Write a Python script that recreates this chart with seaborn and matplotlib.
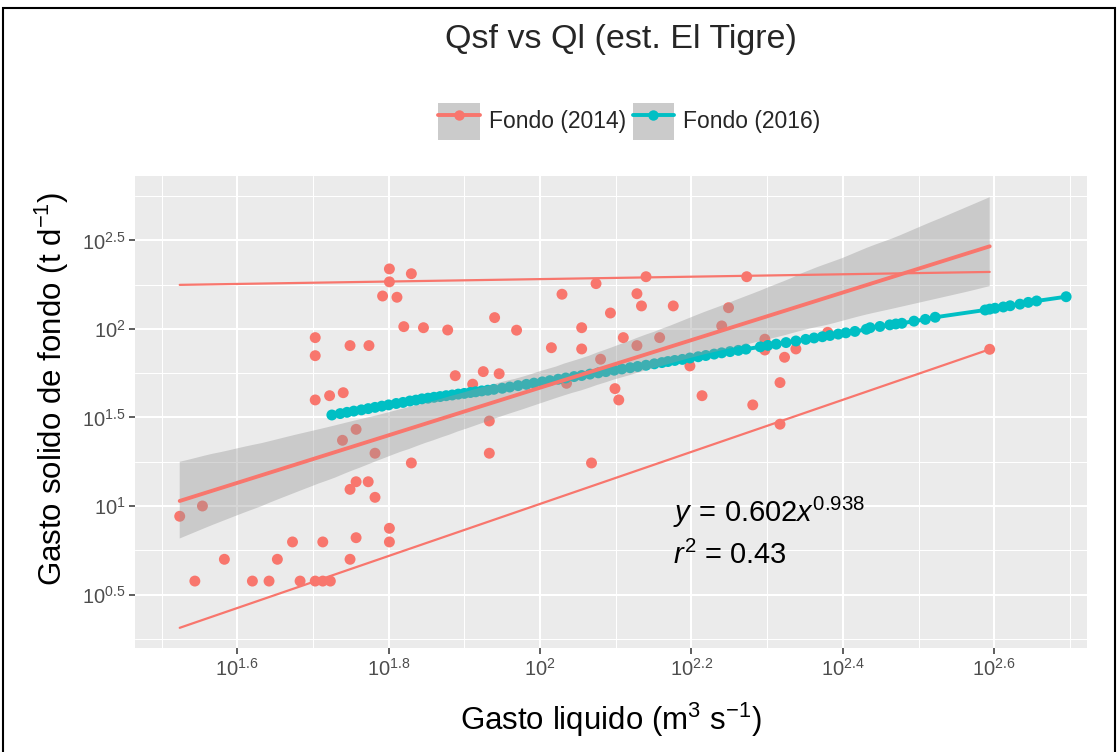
import numpy as np
import pandas as pd
import matplotlib
matplotlib.use("Agg")
import matplotlib.pyplot as plt
import seaborn as sns
from matplotlib.lines import Line2D
from matplotlib.patches import Patch, Rectangle

# ---------------- data (log10 values) ----------------
log_ql_2014 = [1.801, 1.801, 1.830, 1.792, 1.811, 1.820, 1.846, 1.878, 1.703, 1.703,
               1.749, 1.774, 1.703, 1.722, 1.740, 1.757, 1.739, 1.782, 1.830, 1.757,
               1.749, 1.773, 1.782, 1.524, 1.554, 1.801, 1.801, 1.757, 1.673, 1.713,
               1.583, 1.653, 1.749, 1.544, 1.620, 1.642, 1.683, 1.703, 1.713, 1.723,
               1.940, 1.969, 1.888, 1.925, 1.946, 1.911, 1.933, 1.933, 2.029, 2.074,
               2.140, 2.128, 2.134, 2.176, 2.093, 2.055, 2.015, 2.055, 2.110, 2.128,
               2.158, 2.080, 2.035, 2.099, 2.104, 2.198, 2.214, 2.281, 2.249, 2.240,
               2.273, 2.297, 2.297, 2.323, 2.338, 2.317, 2.380, 2.594, 2.068, 2.317]
log_qsf_2014 = [2.339, 2.266, 2.312, 2.186, 2.179, 2.013, 2.007, 1.994, 1.951, 1.849,
                1.906, 1.906, 1.599, 1.623, 1.640, 1.433, 1.371, 1.298, 1.243, 1.137,
                1.094, 1.137, 1.049, 0.942, 1.000, 0.874, 0.797, 0.821, 0.797, 0.797,
                0.699, 0.699, 0.699, 0.576, 0.576, 0.576, 0.576, 0.576, 0.576, 0.576,
                2.064, 1.993, 1.736, 1.759, 1.747, 1.688, 1.480, 1.298, 2.196, 2.256,
                2.295, 2.199, 2.130, 2.130, 2.090, 2.007, 1.894, 1.887, 1.951, 1.906,
                1.951, 1.829, 1.693, 1.663, 1.599, 1.791, 1.623, 1.571, 2.120, 2.017,
                2.295, 1.942, 1.881, 1.840, 1.887, 1.697, 1.981, 1.885, 1.243, 1.462]

log_ql_2016 = [1.725, 1.736, 1.745, 1.754, 1.764, 1.773, 1.782, 1.791, 1.800, 1.810,
               1.819, 1.828, 1.836, 1.844, 1.852, 1.860, 1.868, 1.876, 1.884, 1.892,
               1.900, 1.908, 1.915, 1.923, 1.931, 1.939, 1.950, 1.960, 1.971, 1.982,
               1.992, 2.003, 2.013, 2.024, 2.034, 2.045, 2.055, 2.066, 2.077, 2.087,
               2.098, 2.108, 2.119, 2.129, 2.140, 2.151, 2.161, 2.169, 2.178, 2.188,
               2.198, 2.209, 2.219, 2.230, 2.240, 2.251, 2.262, 2.272, 2.291, 2.301,
               2.312, 2.325, 2.338, 2.351, 2.362, 2.373, 2.383, 2.394, 2.404, 2.416,
               2.431, 2.436, 2.449, 2.462, 2.470, 2.478, 2.494, 2.509, 2.522, 2.588,
               2.594, 2.601, 2.612, 2.621, 2.634, 2.645, 2.656, 2.695]
log_qsf_2016 = [1.514, 1.522, 1.529, 1.536, 1.543, 1.550, 1.557, 1.564, 1.571, 1.579,
                1.585, 1.593, 1.598, 1.605, 1.609, 1.614, 1.618, 1.623, 1.627, 1.632,
                1.636, 1.641, 1.645, 1.650, 1.654, 1.659, 1.665, 1.672, 1.680, 1.687,
                1.694, 1.701, 1.708, 1.716, 1.723, 1.731, 1.737, 1.745, 1.752, 1.759,
                1.767, 1.774, 1.781, 1.788, 1.795, 1.803, 1.810, 1.816, 1.822, 1.828,
                1.836, 1.843, 1.850, 1.858, 1.865, 1.872, 1.879, 1.886, 1.899, 1.907,
                1.914, 1.923, 1.932, 1.941, 1.949, 1.956, 1.963, 1.971, 1.978, 1.986,
                1.998, 2.007, 2.014, 2.023, 2.028, 2.032, 2.044, 2.054, 2.066, 2.107,
                2.112, 2.117, 2.124, 2.131, 2.140, 2.150, 2.158, 2.182]

# upper / lower bounding lines for the 2014 series
upper_line_x = [1.524, 2.594]
upper_line_y = [2.249, 2.322]
lower_line_x = [1.524, 2.594]
lower_line_y = [0.312, 1.885]

x_ticks = [1.6, 1.8, 2.0, 2.2, 2.4, 2.6]
x_tick_labels = ["$10^{1.6}$", "$10^{1.8}$", "$10^{2}$", "$10^{2.2}$", "$10^{2.4}$", "$10^{2.6}$"]
y_ticks = [0.5, 1.0, 1.5, 2.0, 2.5]
y_tick_labels = ["$10^{0.5}$", "$10^{1}$", "$10^{1.5}$", "$10^{2}$", "$10^{2.5}$"]
x_minor = [1.5, 1.7, 1.9, 2.1, 2.3, 2.5, 2.7]
y_minor = [0.25, 0.75, 1.25, 1.75, 2.25, 2.75]

series_names = ["Fondo (2014)", "Fondo (2016)"]
colors = ["#F8766D", "#00BFC4"]

# ---------------- style ----------------
sns.set_theme(style="darkgrid", rc={"axes.facecolor": "#EBEBEB", "grid.color": "white"})
plt.rcParams["font.family"] = ["Liberation Sans", "DejaVu Sans"]
plt.rcParams["mathtext.fontset"] = "custom"
plt.rcParams["mathtext.rm"] = "Liberation Sans"
plt.rcParams["mathtext.it"] = "Liberation Sans:italic"
plt.rcParams["mathtext.bf"] = "Liberation Sans:bold"

df14 = pd.DataFrame({"ql": log_ql_2014, "qsf": log_qsf_2014})
df16 = pd.DataFrame({"ql": log_ql_2016, "qsf": log_qsf_2016})

fig = plt.figure(figsize=(11.18, 7.52), dpi=100)
ax = fig.add_axes([0.1208, 0.1383, 0.8515, 0.6277])

sns.scatterplot(data=df14, x="ql", y="qsf", color=colors[0], s=62, edgecolor="none",
                linewidth=0, ax=ax, zorder=2)
sns.lineplot(data=df16, x="ql", y="qsf", color=colors[1], lw=2.8, sort=False,
             estimator=None, ax=ax, zorder=3)
sns.scatterplot(data=df16, x="ql", y="qsf", color=colors[1], s=62, edgecolor="none",
                linewidth=0, ax=ax, zorder=3)

n_before = len(ax.collections)
sns.regplot(data=df14, x="ql", y="qsf", scatter=False, color=colors[0], ci=95,
            n_boot=1000, seed=3, truncate=True, line_kws={"lw": 2.8, "zorder": 6}, ax=ax)
for coll in ax.collections[n_before:]:
    coll.set_alpha(None)
    coll.set_facecolor((0.6, 0.6, 0.6, 0.4))
    coll.set_edgecolor("none")
    coll.set_zorder(4)

ax.plot(upper_line_x, upper_line_y, color=colors[0], lw=1.6, zorder=5)
ax.plot(lower_line_x, lower_line_y, color=colors[0], lw=1.6, zorder=5)

ax.set_xlim(1.465, 2.7226)
ax.set_ylim(0.198, 2.864)
ax.set_xticks(x_ticks)
ax.set_xticklabels(x_tick_labels)
ax.set_yticks(y_ticks)
ax.set_yticklabels(y_tick_labels)
ax.set_xticks(x_minor, minor=True)
ax.set_yticks(y_minor, minor=True)
ax.grid(which="major", color="white", lw=1.5)
ax.grid(which="minor", color="white", lw=0.75)
ax.tick_params(which="major", bottom=True, left=True, length=4, width=1.1,
               color="#333333", labelcolor="#4D4D4D", labelsize=14.5, pad=3)
ax.tick_params(which="minor", length=0)
for s in ax.spines.values():
    s.set_visible(False)

ax.set_xlabel("Gasto liquido (m$^{3}$ s$^{-1}$)", fontsize=22.5, color="black", labelpad=15)
ax.set_ylabel("Gasto solido de fondo (t d$^{-1}$)", fontsize=22.5, color="black")
ax.yaxis.set_label_coords(-0.067, 0.55)

ax.text(2.176, 0.966, r"$y\,=\,0.602x^{0.938}$", fontsize=21, va="center", ha="left",
        color="black", zorder=7)
ax.text(2.176, 0.723, r"$r^{2}$ = 0.43", fontsize=21, va="center", ha="left",
        color="black", zorder=7)

fig.text(0.555, 0.947, "Qsf vs Ql (est. El Tigre)", ha="center", va="center", fontsize=24.5)

handles = []
for c in colors:
    bg = Patch(facecolor="#CBCBCB", edgecolor="none")
    ln = Line2D([], [], color=c, lw=2.8, marker="o", markersize=7.5, markeredgewidth=0)
    handles.append((bg, ln))
fig.legend(handles, series_names, loc="center", bbox_to_anchor=(0.563, 0.839), ncol=2,
           frameon=False, fontsize=16.5, handlelength=1.8, handleheight=2.1,
           handletextpad=0.4, columnspacing=0.3, borderpad=0)

fig.add_artist(Rectangle((3 / 1118, -0.05), 1112 / 1118, 1.05 - 8 / 752,
                         transform=fig.transFigure, fill=False, edgecolor="black", lw=1.5))

fig.savefig("out.png", dpi=100)
